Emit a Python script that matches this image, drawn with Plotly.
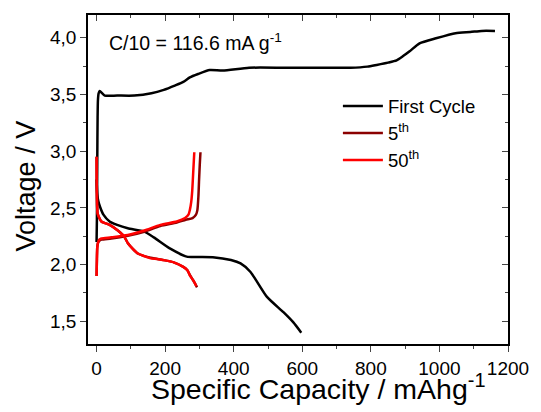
import plotly.graph_objects as go

# First cycle
first_dis_x = [0, 2, 5, 10, 20, 38, 60, 91, 139, 167, 215, 263, 297, 339, 392, 420, 449, 497, 545, 574, 597]
first_dis_y = [2.75, 2.62, 2.56, 2.51, 2.44, 2.38, 2.35, 2.32, 2.29, 2.24, 2.14, 2.07, 2.067, 2.065, 2.04, 2.01, 1.935, 1.715, 1.58, 1.49, 1.40]
first_ch_x = [0, 1, 2, 3, 4, 6, 9, 24, 60, 110, 160, 196, 230, 253, 272, 296, 330, 368, 445, 550, 650, 741, 790, 817, 850, 875, 895, 913, 942, 990, 1047, 1090, 1123, 1162]
first_ch_y = [2.20, 2.4, 2.9, 3.3, 3.45, 3.51, 3.53, 3.49, 3.49, 3.49, 3.51, 3.54, 3.58, 3.61, 3.65, 3.68, 3.715, 3.71, 3.735, 3.735, 3.735, 3.735, 3.745, 3.76, 3.78, 3.80, 3.84, 3.88, 3.95, 3.995, 4.04, 4.05, 4.06, 4.06]

# 5th cycle
c5_dis_x = [0, 1, 3, 8, 14, 25, 38, 62, 80, 91, 105, 119, 139, 158, 177, 200, 225, 253, 265, 272, 282, 293]
c5_dis_y = [2.95, 2.6, 2.45, 2.41, 2.38, 2.365, 2.35, 2.30, 2.25, 2.19, 2.14, 2.10, 2.075, 2.06, 2.05, 2.037, 2.02, 1.98, 1.95, 1.91, 1.86, 1.80]
c5_ch_x = [0, 1, 2, 4, 8, 14, 43, 91, 139, 186, 234, 260, 280, 290, 294, 297, 299, 301, 303]
c5_ch_y = [1.90, 2.05, 2.15, 2.19, 2.21, 2.22, 2.23, 2.255, 2.29, 2.34, 2.37, 2.395, 2.41, 2.44, 2.48, 2.6, 2.75, 2.88, 2.99]

# 50th cycle
c50_dis_x = [0, 1, 3, 8, 14, 25, 38, 62, 80, 91, 105, 119, 139, 158, 177, 200, 225, 253, 265, 272, 282, 291]
c50_dis_y = [2.95, 2.6, 2.45, 2.41, 2.38, 2.365, 2.35, 2.30, 2.25, 2.19, 2.14, 2.10, 2.075, 2.055, 2.05, 2.037, 2.02, 1.98, 1.95, 1.905, 1.86, 1.81]
c50_ch_x = [0, 1, 2, 4, 8, 14, 43, 91, 139, 186, 234, 258, 268, 272, 276, 279, 282, 285]
c50_ch_y = [1.90, 2.05, 2.15, 2.19, 2.22, 2.23, 2.24, 2.26, 2.30, 2.35, 2.38, 2.41, 2.44, 2.48, 2.55, 2.65, 2.82, 2.99]

x_ticks = [0, 200, 400, 600, 800, 1000, 1200]
y_ticks = [1.5, 2.0, 2.5, 3.0, 3.5, 4.0]

BLACK = "#000000"
DARK = "#8B0000"
RED = "#FF0000"
LW = 2.5

fig = go.Figure()
fig.add_trace(go.Scatter(x=first_dis_x, y=first_dis_y, mode="lines", line=dict(color=BLACK, width=LW, shape="spline", smoothing=0.6), name="First Cycle", legendgroup="a"))
fig.add_trace(go.Scatter(x=first_ch_x, y=first_ch_y, mode="lines", line=dict(color=BLACK, width=LW, shape="spline", smoothing=0.6), showlegend=False, legendgroup="a"))
fig.add_trace(go.Scatter(x=c5_dis_x, y=c5_dis_y, mode="lines", line=dict(color=DARK, width=LW, shape="spline", smoothing=0.6), name="5<sup>th</sup>", legendgroup="b"))
fig.add_trace(go.Scatter(x=c5_ch_x, y=c5_ch_y, mode="lines", line=dict(color=DARK, width=LW, shape="spline", smoothing=0.6), showlegend=False, legendgroup="b"))
fig.add_trace(go.Scatter(x=c50_dis_x, y=c50_dis_y, mode="lines", line=dict(color=RED, width=LW, shape="spline", smoothing=0.6), name="50<sup>th</sup>", legendgroup="c"))
fig.add_trace(go.Scatter(x=c50_ch_x, y=c50_ch_y, mode="lines", line=dict(color=RED, width=LW, shape="spline", smoothing=0.6), showlegend=False, legendgroup="c"))
# dummy trace for overlay axes
fig.add_trace(go.Scatter(x=[None], y=[None], xaxis="x2", yaxis="y2", showlegend=False, hoverinfo="skip"))

XR = [-25, 1200]
YR = [1.3, 4.2]
FONT = "Liberation Sans, Arial, sans-serif"

fig.update_layout(
    width=541, height=412,
    margin=dict(l=88, r=26, t=15, b=68),
    paper_bgcolor="white", plot_bgcolor="white",
    font=dict(family=FONT, color="black", size=19),
    separators=", ",
    showlegend=True,
    legend=dict(x=0.595, y=0.78, xanchor="left", yanchor="top", bgcolor="rgba(0,0,0,0)",
                font=dict(size=18.5, family=FONT), tracegroupgap=0, itemwidth=40),
    xaxis=dict(range=XR, tickvals=x_ticks, ticks="outside", ticklen=6, tickwidth=1.2,
               showline=True, linecolor="black", linewidth=1.5, showgrid=False, zeroline=False,
               minor=dict(dtick=100, tick0=0, ticks="outside", ticklen=3, tickwidth=1.2),
               tickfont=dict(size=19)),
    yaxis=dict(range=YR, tickvals=y_ticks, tickformat=".1f", ticks="outside", ticklen=6, tickwidth=1.2,
               showline=True, linecolor="black", linewidth=1.5, showgrid=False, zeroline=False,
               minor=dict(dtick=0.25, tick0=0, ticks="outside", ticklen=3, tickwidth=1.2),
               tickfont=dict(size=19)),
    xaxis2=dict(range=XR, overlaying="x", side="top", tickvals=x_ticks, ticks="inside", ticklen=6, tickwidth=1.2,
                showticklabels=False, showline=True, linecolor="black", linewidth=1.5, showgrid=False, zeroline=False,
                minor=dict(dtick=100, tick0=0, ticks="inside", ticklen=3, tickwidth=1.2)),
    yaxis2=dict(range=YR, overlaying="y", side="right", tickvals=y_ticks, ticks="inside", ticklen=6, tickwidth=1.2,
                showticklabels=False, showline=True, linecolor="black", linewidth=1.5, showgrid=False, zeroline=False,
                minor=dict(dtick=0.25, tick0=0, ticks="inside", ticklen=3, tickwidth=1.2)),
    annotations=[
        dict(text="C/10 = 116.6 mA g<sup>-1</sup>", x=0.045, y=0.96, xref="paper", yref="paper",
             xanchor="left", yanchor="top", showarrow=False, font=dict(size=19.5, family=FONT)),
        dict(text="Specific Capacity / mAhg<sup>-1</sup>", x=0.548, y=-0.07, xref="paper", yref="paper",
             xanchor="center", yanchor="top", showarrow=False, font=dict(size=28.5, family=FONT)),
        dict(text="Voltage / V", x=-0.1475, y=0.479, xref="paper", yref="paper", textangle=-90,
             xanchor="center", yanchor="middle", showarrow=False, font=dict(size=27, family=FONT)),
    ],
)

fig.write_html("out.html")
